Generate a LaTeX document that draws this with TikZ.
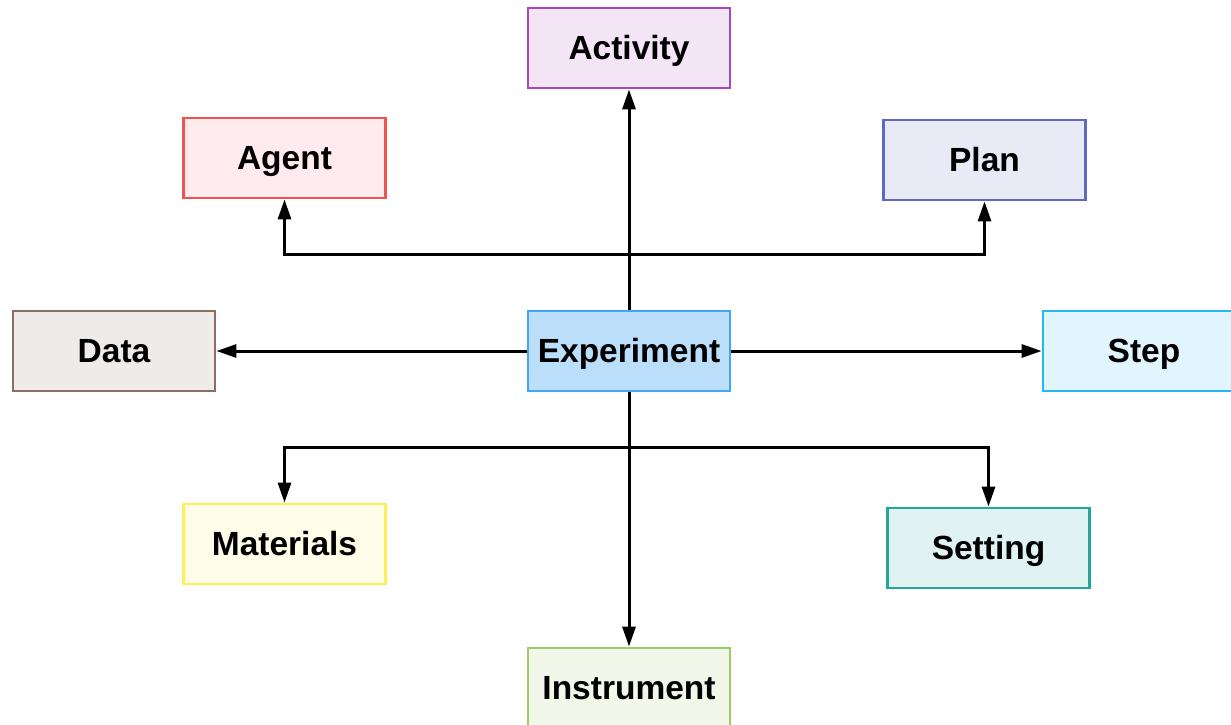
\documentclass[tikz,border=0pt]{standalone}
\usepackage{fontspec}
\setmainfont{Liberation Sans}
\usetikzlibrary{arrows.meta}

\definecolor{actFill}{HTML}{F3E5F5}\definecolor{actLine}{HTML}{AB47BC}
\definecolor{agtFill}{HTML}{FFEBEE}\definecolor{agtLine}{HTML}{EF5350}
\definecolor{plnFill}{HTML}{E8EAF6}\definecolor{plnLine}{HTML}{5C6BC0}
\definecolor{datFill}{HTML}{EFEBE9}\definecolor{datLine}{HTML}{8D6E63}
\definecolor{expFill}{HTML}{BBDEFB}\definecolor{expLine}{HTML}{42A5F5}
\definecolor{stpFill}{HTML}{E1F5FE}\definecolor{stpLine}{HTML}{29B6F6}
\definecolor{matFill}{HTML}{FFFDE7}\definecolor{matLine}{HTML}{FFEE58}
\definecolor{setFill}{HTML}{E0F2F1}\definecolor{setLine}{HTML}{26A69A}
\definecolor{insFill}{HTML}{F1F8E9}\definecolor{insLine}{HTML}{9CCC65}

\tikzset{
  entity/.style n args={2}{rectangle, draw=#2, fill=#1, line width=2.8pt,
    minimum width=202pt, minimum height=80pt, inner sep=0pt,
    text height=23.8pt, text depth=0pt,
    font=\fontsize{33.5}{40}\selectfont\bfseries},
  link/.style={line width=3pt, draw=black,
    -{Triangle[length=20pt,width=13pt]}},
}

\begin{document}
\begin{tikzpicture}[x=1pt,y=-1pt]
  \useasboundingbox (0,0) rectangle (1231,724);
  \clip (0,0) rectangle (1231,724);

  \node[entity={actFill}{actLine}] (activity)   at (629,48)   {Activity};
  \node[entity={agtFill}{agtLine}] (agent)      at (284.5,158) {Agent};
  \node[entity={plnFill}{plnLine}] (plan)       at (984.5,160) {Plan};
  \node[entity={datFill}{datLine}] (data)       at (114,351)  {Data};
  \node[entity={expFill}{expLine}] (experiment) at (629,351)  {Experiment};
  \node[entity={stpFill}{stpLine}] (step)       at (1144,351) {Step};
  \node[entity={matFill}{matLine}] (materials)  at (284.5,544) {Materials};
  \node[entity={setFill}{setLine}] (setting)    at (988.5,548) {Setting};
  \node[entity={insFill}{insLine}] (instrument) at (629,688)  {Instrument};

  % branching points on the vertical axis
  \coordinate (upper) at (629,254);
  \coordinate (lower) at (629,447);

  \draw[link] (experiment.north) -- (activity.south);
  \draw[link] (experiment.north) -- (upper) -| (agent.south);
  \draw[link] (experiment.north) -- (upper) -| (plan.south);
  \draw[link] (experiment.west) -- (data.east);
  \draw[link] (experiment.east) -- (step.west);
  \draw[link] (experiment.south) -- (instrument.north);
  \draw[link] (experiment.south) -- (lower) -| (materials.north);
  \draw[link] (experiment.south) -- (lower) -| (setting.north);
\end{tikzpicture}
\end{document}
